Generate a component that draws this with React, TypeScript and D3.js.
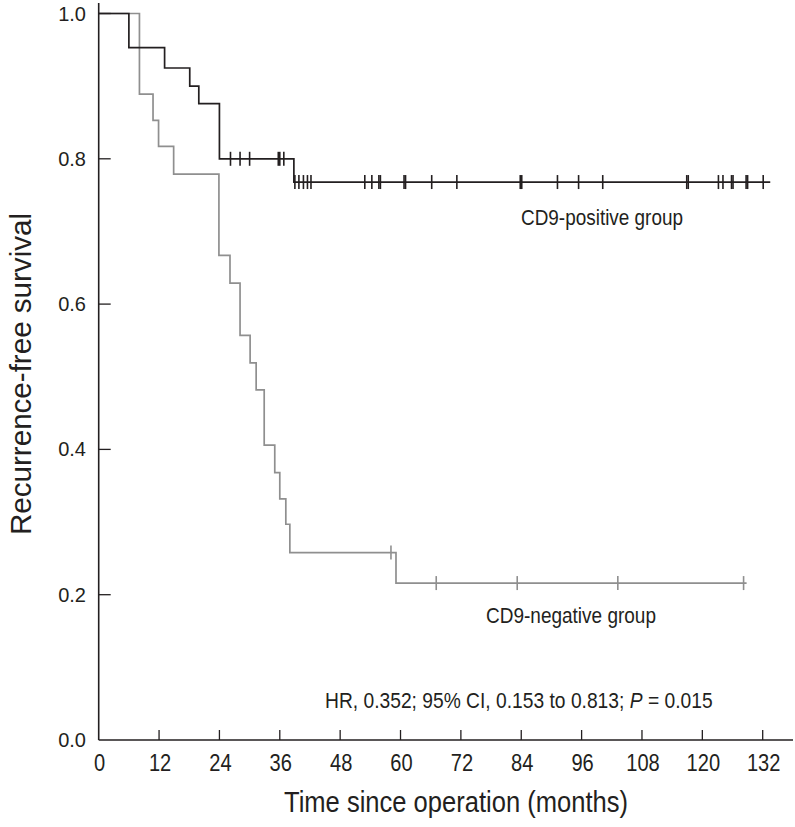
import React from "react";
import * as d3 from "d3";

const xTicks = [0, 12, 24, 36, 48, 60, 72, 84, 96, 108, 120, 132];
const yTicks = [0, 0.2, 0.4, 0.6, 0.8, 1.0];

// CD9-positive group (step times and survival values)
const posTimes = [0, 6.0, 13.1, 18.1, 19.9, 24.0, 38.8];
const posSurv = [1, 0.953, 0.925, 0.9, 0.876, 0.8, 0.768];
const posEnd = 133.5;
const posCensor = [26.2, 28.1, 30.0, 35.7, 36.0, 36.8, 39.0, 39.8, 40.7, 41.5, 42.2, 52.9, 54.3, 55.7, 56.0, 60.7, 61.0, 66.2, 71.2, 83.8, 84.1, 91.2, 95.4, 100.2, 116.9, 117.2, 123.2, 124.1, 125.8, 126.1, 128.7, 129.0, 132.1];

// CD9-negative group
const negTimes = [0, 8.1, 10.8, 11.9, 14.9, 23.9, 26.1, 28.1, 30.1, 31.3, 32.9, 35.0, 36.0, 37.2, 38.0, 59.1];
const negSurv = [1, 0.889, 0.853, 0.817, 0.779, 0.667, 0.629, 0.557, 0.519, 0.482, 0.406, 0.368, 0.332, 0.297, 0.258, 0.216];
const negEnd = 128.8;
const negCensor = [58.1, 67.1, 83.2, 103.2, 128.2];

const W = 795;
const H = 827;
const dark = "#231f20";
const gray = "#8f8f8f";
const font = "'Liberation Sans', Arial, sans-serif";

export default function App() {
  const x = d3.scaleLinear().domain([0, 132]).range([98.7, 762.7]);
  const y = d3.scaleLinear().domain([0, 1]).range([740, 13.5]);

  const stepLine = d3
    .line<[number, number]>()
    .x((d) => x(d[0]))
    .y((d) => y(d[1]))
    .curve(d3.curveStepAfter);

  const makePts = (t: number[], s: number[], end: number): [number, number][] => {
    const pts: [number, number][] = t.map((tt, i) => [tt, s[i]] as [number, number]);
    pts.push([end, s[s.length - 1]]);
    return pts;
  };

  const survAt = (t: number[], s: number[], time: number) => {
    let v = s[0];
    for (let i = 0; i < t.length; i++) if (t[i] <= time) v = s[i];
    return v;
  };

  const censorMarks = (c: number[], t: number[], s: number[], color: string, key: string) =>
    c.map((ct, i) => {
      const yy = y(survAt(t, s, ct));
      return (
        <line key={key + i} x1={x(ct)} x2={x(ct)} y1={yy - 7} y2={yy + 7} stroke={color} strokeWidth={1.6} />
      );
    });

  const x0 = x(0);
  const yBase = y(0);

  return (
    <div style={{ position: "absolute", left: 0, top: 0 }}>
      <svg width={W} height={H} style={{ display: "block", background: "#fff" }}>
        {/* negative group */}
        <path d={stepLine(makePts(negTimes, negSurv, negEnd)) || ""} fill="none" stroke={gray} strokeWidth={1.7} />
        {censorMarks(negCensor, negTimes, negSurv, gray, "n")}
        {/* positive group */}
        <path d={stepLine(makePts(posTimes, posSurv, posEnd)) || ""} fill="none" stroke={dark} strokeWidth={1.7} />
        {censorMarks(posCensor, posTimes, posSurv, dark, "p")}

        {/* axes */}
        <line x1={x0} x2={x0} y1={3} y2={yBase} stroke={dark} strokeWidth={1.6} />
        <line x1={x0} x2={793} y1={yBase} y2={yBase} stroke={dark} strokeWidth={1.6} />
        {xTicks.map((t) => (
          <g key={"xt" + t}>
            {t > 0 && <line x1={x(t)} x2={x(t)} y1={yBase} y2={yBase - 10} stroke={dark} strokeWidth={1.3} />}
            <g transform={`translate(${x(t) + 1}, ${yBase + 31}) scale(0.82, 1)`}>
              <text textAnchor="middle" fontFamily={font} fontSize={24.5} fill={dark}>
                {t}
              </text>
            </g>
          </g>
        ))}
        {yTicks.map((v) => (
          <g key={"yt" + v}>
            {v > 0 && <line x1={x0} x2={x0 + 12} y1={y(v)} y2={y(v)} stroke={dark} strokeWidth={1.3} />}
            <text x={86} y={y(v) + 7} textAnchor="end" fontFamily={font} fontSize={20} fill={dark}>
              {v.toFixed(1)}
            </text>
          </g>
        ))}

        {/* axis titles */}
        <text x={284} y={812} fontFamily={font} fontSize={29} fill={dark} textLength={344} lengthAdjust="spacingAndGlyphs">
          Time since operation (months)
        </text>
        <text
          transform={`translate(31, ${535}) rotate(-90)`}
          fontFamily={font}
          fontSize={29}
          fill={dark}
          textLength={322}
          lengthAdjust="spacingAndGlyphs"
        >
          Recurrence-free survival
        </text>

        {/* annotations */}
        <text x={521} y={225} fontFamily={font} fontSize={22.5} fill={dark} textLength={162} lengthAdjust="spacingAndGlyphs">
          CD9-positive group
        </text>
        <text x={486} y={623} fontFamily={font} fontSize={22.5} fill={dark} textLength={170} lengthAdjust="spacingAndGlyphs">
          CD9-negative group
        </text>
        <g transform="translate(325, 708) scale(0.837, 1)">
          <text x={0} y={0} fontFamily={font} fontSize={23} fill={dark}>
            HR, 0.352; 95% CI, 0.153 to 0.813; <tspan fontStyle="italic">P</tspan> = 0.015
          </text>
        </g>
      </svg>
    </div>
  );
}
